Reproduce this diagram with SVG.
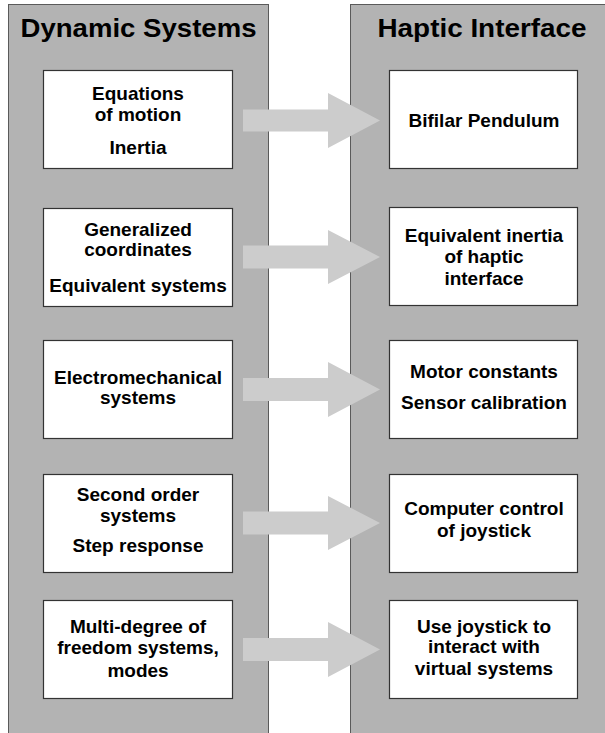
<svg xmlns="http://www.w3.org/2000/svg" width="605" height="733" viewBox="0 0 605 733">
<style>
.panel{fill:#b3b3b3;stroke:#5a5a5a;stroke-width:1}
.box{fill:#ffffff;stroke:#333333;stroke-width:1.2}
.title{font-family:"Liberation Sans",Arial,sans-serif;font-weight:bold;font-size:25px;fill:#000;text-anchor:middle}
.t{font-family:"Liberation Sans",Arial,sans-serif;font-weight:bold;font-size:19px;fill:#000;text-anchor:middle}
.arrow{fill:#cccccc;stroke:none}
</style>
<rect width="605" height="733" fill="#ffffff"/>
<g id="panel-dynamic">
<rect class="panel" x="8.5" y="4.5" width="260" height="740"/>
<text class="title" x="138.5" y="37" textLength="236" lengthAdjust="spacingAndGlyphs">Dynamic Systems</text>
</g>
<g id="panel-haptic">
<rect class="panel" x="350.5" y="4.5" width="270" height="740"/>
<text class="title" x="482" y="37" textLength="209" lengthAdjust="spacingAndGlyphs">Haptic Interface</text>
</g>
<g id="connectors">
<polygon class="arrow" points="243,109.5 328,109.5 328,93 380,120.5 328,148 328,131.5 243,131.5"/>
<polygon class="arrow" points="243,245.5 328,245.5 328,230 380,257 328,284 328,268.5 243,268.5"/>
<polygon class="arrow" points="243,378 328,378 328,362 380,389.5 328,417 328,401 243,401"/>
<polygon class="arrow" points="243,511.5 328,511.5 328,496 380,523 328,550 328,534.5 243,534.5"/>
<polygon class="arrow" points="243,638 328,638 328,622 380,649.5 328,677 328,661 243,661"/>
</g>
<g id="node-equations">
<rect class="box" x="43.5" y="70.5" width="189" height="98"/>
<text class="t" x="138" y="100">Equations</text>
<text class="t" x="138" y="121">of motion</text>
<text class="t" x="138" y="154">Inertia</text>
</g>
<g id="node-generalized">
<rect class="box" x="43.5" y="208.5" width="189" height="98"/>
<text class="t" x="138" y="236">Generalized</text>
<text class="t" x="138" y="256">coordinates</text>
<text class="t" x="138" y="292">Equivalent systems</text>
</g>
<g id="node-electromechanical">
<rect class="box" x="43.5" y="340.5" width="189" height="98"/>
<text class="t" x="138" y="384">Electromechanical</text>
<text class="t" x="138" y="404">systems</text>
</g>
<g id="node-second-order">
<rect class="box" x="43.5" y="474.5" width="189" height="98"/>
<text class="t" x="138" y="501">Second order</text>
<text class="t" x="138" y="522">systems</text>
<text class="t" x="138" y="552">Step response</text>
</g>
<g id="node-multi-degree">
<rect class="box" x="43.5" y="600.5" width="189" height="98"/>
<text class="t" x="138" y="633">Multi-degree of</text>
<text class="t" x="138" y="654">freedom systems,</text>
<text class="t" x="138" y="677">modes</text>
</g>
<g id="node-bifilar">
<rect class="box" x="389.5" y="70.5" width="188" height="98"/>
<text class="t" x="484" y="127">Bifilar Pendulum</text>
</g>
<g id="node-equiv-inertia">
<rect class="box" x="389.5" y="207.5" width="188" height="98"/>
<text class="t" x="484" y="242">Equivalent inertia</text>
<text class="t" x="484" y="263">of haptic</text>
<text class="t" x="484" y="285">interface</text>
</g>
<g id="node-motor">
<rect class="box" x="389.5" y="340.5" width="188" height="98"/>
<text class="t" x="484" y="378">Motor constants</text>
<text class="t" x="484" y="409">Sensor calibration</text>
</g>
<g id="node-computer">
<rect class="box" x="389.5" y="474.5" width="188" height="98"/>
<text class="t" x="484" y="515">Computer control</text>
<text class="t" x="484" y="537">of joystick</text>
</g>
<g id="node-joystick">
<rect class="box" x="389.5" y="600.5" width="188" height="98"/>
<text class="t" x="484" y="633">Use joystick to</text>
<text class="t" x="484" y="653">interact with</text>
<text class="t" x="484" y="675">virtual systems</text>
</g>
</svg>
